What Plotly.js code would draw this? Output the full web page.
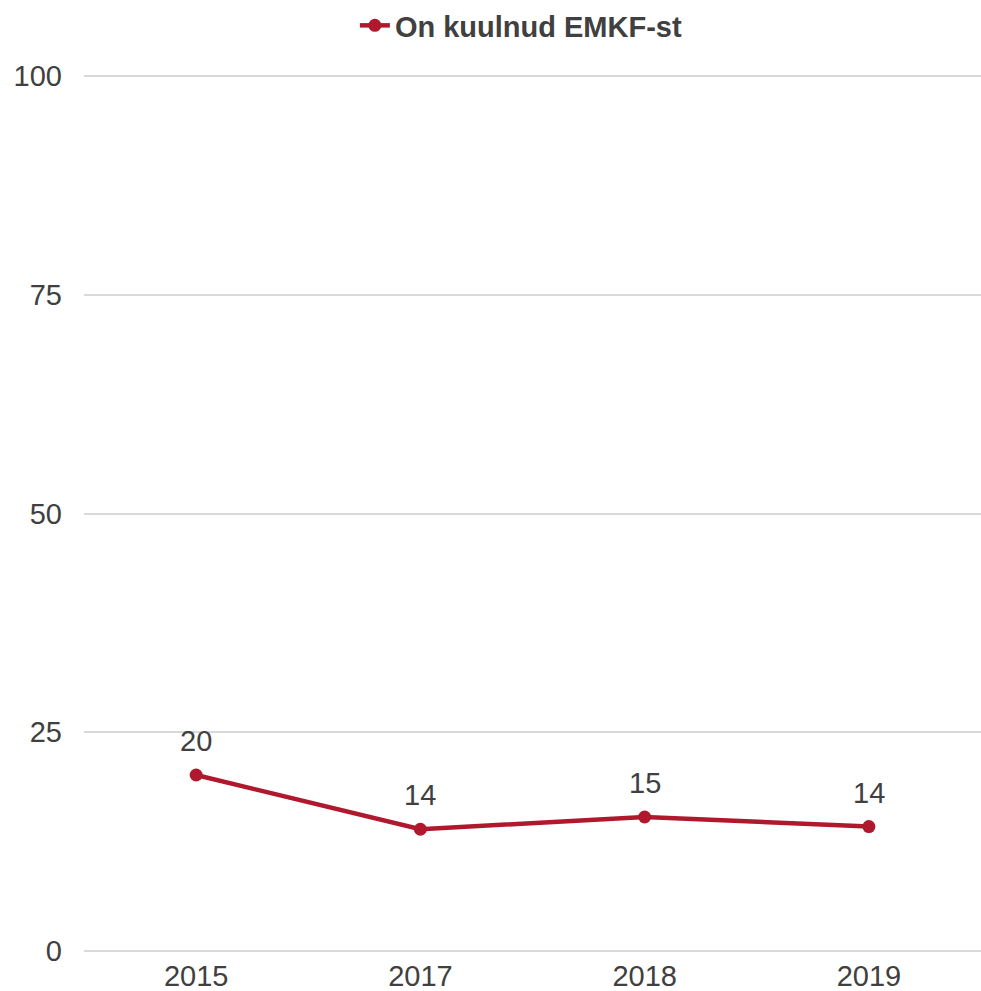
<!DOCTYPE html>
<html>
<head>
<meta charset="utf-8">
<script src="https://cdn.plot.ly/plotly-3.0.1.min.js"></script>
<style>html,body{margin:0;padding:0;background:#fff;}#chart{width:981px;height:991px;}</style>
</head>
<body>
<div id="chart"></div>
<script>
const years = ["2015", "2017", "2018", "2019"];
const heard = [20.1, 13.9, 15.3, 14.2];
const heardLabels = ["20", "14", "15", "14"];
const seriesName = "On kuulnud EMKF-st";
const yTicks = [0, 25, 50, 75, 100];

const red = "#B0182E";
const textColor = "#404040";
const fontFamily = "Liberation Sans, Arial, Helvetica, sans-serif";

const trace = {
  x: years,
  y: heard,
  type: "scatter",
  mode: "lines+markers",
  name: seriesName,
  line: {color: red, width: 4.5},
  marker: {color: red, size: 13},
  cliponaxis: false,
  hoverinfo: "skip"
};

// category axis: annotation x given as category index
const labelAnnotations = years.map((yr, i) => ({
  x: i,
  y: heard[i],
  xref: "x",
  yref: "y",
  text: heardLabels[i],
  showarrow: false,
  xanchor: "center",
  yanchor: "bottom",
  yshift: 16,
  font: {family: fontFamily, size: 29, color: textColor}
}));

const layout = {
  width: 981,
  height: 991,
  margin: {l: 84, r: 0, t: 74, b: 38},
  paper_bgcolor: "#fff",
  plot_bgcolor: "#fff",
  font: {family: fontFamily, size: 29, color: textColor},
  showlegend: true,
  legend: {
    orientation: "h",
    x: 0.4876, xanchor: "center",
    y: 1.0, yanchor: "top",
    yref: "container",
    font: {family: fontFamily, size: 29, color: textColor, weight: "bold"},
    bgcolor: "rgba(0,0,0,0)"
  },
  annotations: labelAnnotations,
  xaxis: {
    type: "category",
    categoryorder: "array",
    categoryarray: years,
    range: [-0.5, 3.5],
    showgrid: false,
    zeroline: false,
    showline: false,
    ticks: "",
    ticklabelstandoff: 3,
    tickfont: {family: fontFamily, size: 29, color: textColor},
    automargin: false
  },
  yaxis: {
    range: [-0.25, 100.25],
    tickvals: yTicks,
    ticktext: yTicks.map(String),
    showgrid: true,
    gridcolor: "#d9d9d9",
    gridwidth: 2,
    zeroline: false,
    showline: false,
    ticks: "",
    ticklabelstandoff: 21,
    tickfont: {family: fontFamily, size: 29, color: textColor},
    automargin: false
  }
};

Plotly.newPlot("chart", [trace], layout, {displayModeBar: false, staticPlot: true});
</script>
</body>
</html>
